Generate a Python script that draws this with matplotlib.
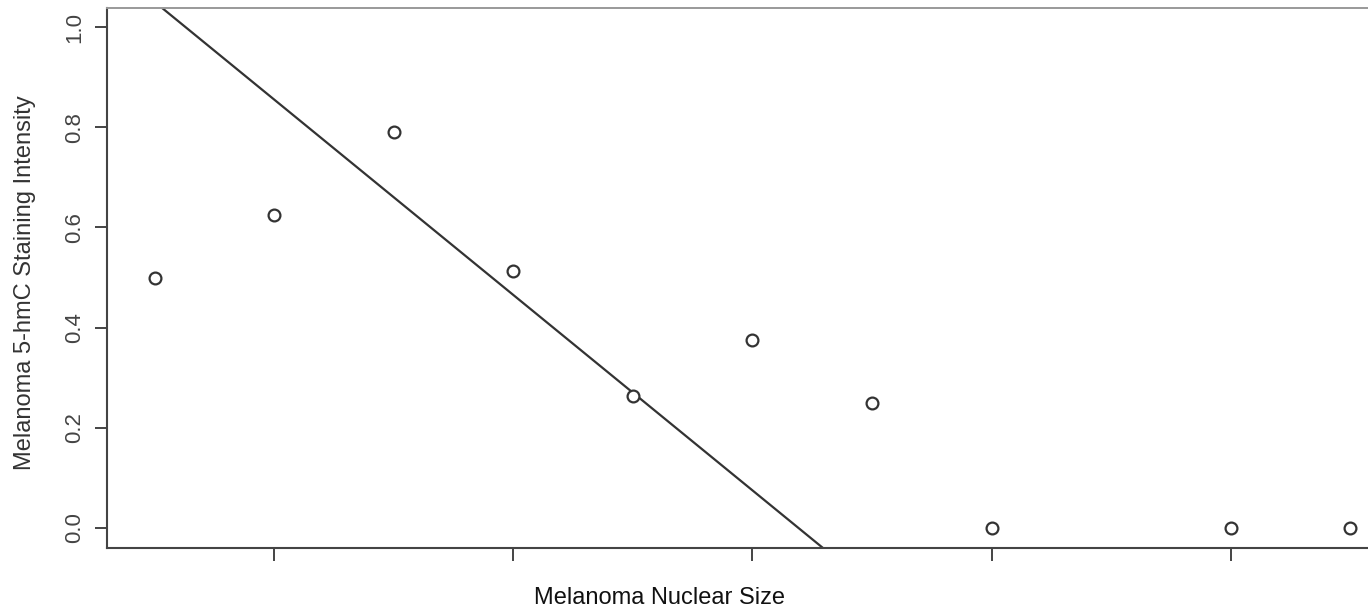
import matplotlib
matplotlib.use("Agg")
import matplotlib.pyplot as plt

plt.rcParams['font.family'] = ['Liberation Sans', 'DejaVu Sans']

# nuclear size vs 5-hmC staining intensity
nuclear_size = [1, 2, 3, 4, 5, 6, 7, 8, 10, 11]
intensity = [0.50, 0.625, 0.79, 0.512, 0.263, 0.375, 0.25, 0.0, 0.0, 0.0]
fit_intercept = 1.245
fit_slope = -0.195

x_ticks = [2, 4, 6, 8, 10]
y_ticks = [0.0, 0.2, 0.4, 0.6, 0.8, 1.0]
y_labels = ["0.0", "0.2", "0.4", "0.6", "0.8", "1.0"]

fig = plt.figure(figsize=(13.68, 6.12), dpi=100)
ax = fig.add_axes([0.0782, 0.1046, 0.9437, 0.8823])

ax.plot(nuclear_size, intensity, 'o', mfc='white', mec='#333333', mew=1.6, ms=8.5, zorder=3)
ax.axline((0, fit_intercept), slope=fit_slope, color='#333333', lw=1.6)

ax.set_xlim(0.6, 11.4)
ax.set_ylim(-0.04, 1.038)

ax.set_xticks(x_ticks)
ax.set_xticklabels([])
ax.set_yticks(y_ticks)
ax.set_yticklabels(y_labels, rotation=90, va='center', fontsize=16, color='#444444')
ax.tick_params(axis='both', direction='out', length=9, width=1.4, color='#444444', pad=7)

for s in ['left', 'bottom', 'right']:
    ax.spines[s].set_color('#444444')
    ax.spines[s].set_linewidth(1.5)
ax.spines['top'].set_color('#999999')
ax.spines['top'].set_linewidth(1.4)

fig.text(660 / 1368, 1 - 598 / 612, "Melanoma Nuclear Size", ha='center', va='center',
         fontsize=17, color='#111111')
fig.text(25 / 1368, 1 - 283 / 612, "Melanoma 5-hmC Staining Intensity", ha='center', va='center',
         rotation=90, fontsize=17, color='#333333')

fig.savefig("out.png", dpi=100)
